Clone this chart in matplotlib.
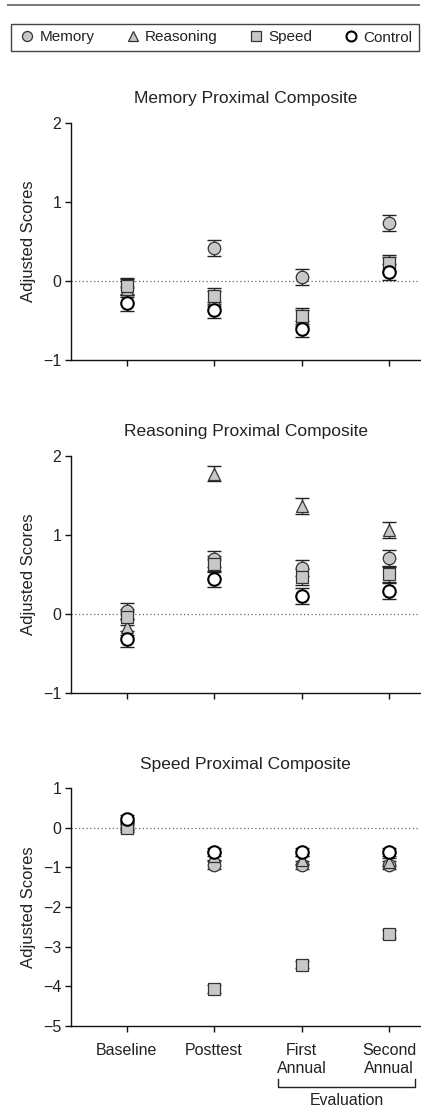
import matplotlib
matplotlib.use("Agg")
import matplotlib.pyplot as plt
import matplotlib.transforms as mtransforms
from matplotlib.lines import Line2D

plt.rcParams["font.family"] = ["Liberation Sans", "DejaVu Sans"]

# Datos
TIMEPOINTS = ["Baseline", "Posttest", "First\nAnnual", "Second\nAnnual"]
GROUPS = ["Memory", "Reasoning", "Speed", "Control"]

TITLES = ["Memory Proximal Composite", "Reasoning Proximal Composite", "Speed Proximal Composite"]
YLIMS = [(-1, 2), (-1, 2), (-5, 1)]
YTICKS = [[-1, 0, 1, 2], [-1, 0, 1, 2], [-5, -4, -3, -2, -1, 0, 1]]

# memory composite
mem_memory    = [-0.07, 0.42, 0.055, 0.73]
mem_reasoning = [-0.10, -0.22, -0.47, 0.21]
mem_speed     = [-0.06, -0.19, -0.44, 0.23]
mem_control   = [-0.28, -0.37, -0.61, 0.12]
mem_se        = [0.10, 0.10, 0.10, 0.10]

# reasoning composite
rea_memory    = [0.04, 0.70, 0.585, 0.71]
rea_reasoning = [-0.16, 1.775, 1.36, 1.06]
rea_speed     = [-0.04, 0.63, 0.47, 0.50]
rea_control   = [-0.31, 0.44, 0.227, 0.29]
rea_se        = [0.10, 0.10, 0.10, 0.10]

# speed composite
spd_memory    = [0.05, -0.94, -0.94, -0.94]
spd_reasoning = [0.07, -0.72, -0.80, -0.86]
spd_speed     = [0.00, -4.06, -3.45, -2.69]
spd_control   = [0.22, -0.61, -0.61, -0.62]
spd_se        = [0.10, 0.10, 0.10, 0.10]

PANELS = [
    [mem_memory, mem_reasoning, mem_speed, mem_control, mem_se],
    [rea_memory, rea_reasoning, rea_speed, rea_control, rea_se],
    [spd_memory, spd_reasoning, spd_speed, spd_control, spd_se],
]

TEXT = "#222222"
GRAY = "#c8c8c8"
EDGE = "#333333"

STYLES = {
    "Memory":    dict(marker="o", mfc=GRAY, mec=EDGE, mew=0.9, ms=9.0),
    "Reasoning": dict(marker="^", mfc=GRAY, mec=EDGE, mew=0.9, ms=9.2),
    "Speed":     dict(marker="s", mfc=GRAY, mec=EDGE, mew=0.9, ms=8.4),
    "Control":   dict(marker="o", mfc="white", mec="black", mew=1.5, ms=9.0),
}

W, H = 421, 1110
fig = plt.figure(figsize=(W / 100, H / 100), dpi=100)

# linea superior
fig.add_artist(Line2D([8 / W, 419 / W], [1 - 5 / H, 1 - 5 / H], color="#777777", lw=1.4))

ax_tops = [122.7, 455.7, 788.3]
ax_h = 237.6
x = list(range(len(TIMEPOINTS)))
axes = []
for i, (top, data) in enumerate(zip(ax_tops, PANELS)):
    ax = fig.add_axes([71 / W, 1 - (top + ax_h) / H, 349 / W, ax_h / H])
    axes.append(ax)
    ax.axhline(0, color="#666666", lw=0.9, ls=(0, (1, 2)), zorder=1)
    se = data[4]
    for g, vals in zip(GROUPS, data[:4]):
        st = STYLES[g]
        ax.errorbar(x, vals, yerr=se, fmt="none", ecolor="#222222", elinewidth=1.0,
                    capsize=4.8, capthick=1.0, zorder=2)
        ax.plot(x, vals, ls="none", zorder=3, **st)
    ax.set_xlim(-0.637, 3.354)
    ax.set_ylim(*YLIMS[i])
    ax.set_yticks(YTICKS[i])
    ax.set_yticklabels([str(t).replace("-", "\u2212") for t in YTICKS[i]])
    ax.set_xticks(x)
    if i == 2:
        ax.set_xticklabels(TIMEPOINTS, fontsize=11.4, color=TEXT, linespacing=1.25)
    else:
        ax.set_xticklabels([])
    for s in ["top", "right"]:
        ax.spines[s].set_visible(False)
    for s in ["left", "bottom"]:
        ax.spines[s].set_linewidth(1.0)
        ax.spines[s].set_color("#111111")
    ax.tick_params(axis="both", length=4, width=1.0, color="#111111",
                   labelsize=11.5, labelcolor=TEXT, pad=3)
    ax.tick_params(axis="x", pad=8)
    ax.set_ylabel("Adjusted Scores", fontsize=12, color=TEXT, labelpad=5)
    ax.set_title(TITLES[i], fontsize=12.5, color=TEXT, pad=14)

# corchete "Evaluation"
ax = axes[2]
trans = mtransforms.blended_transform_factory(ax.transData, ax.transAxes)
bx0, bx1 = 1.726, 3.30
ax.plot([bx0, bx0, bx1, bx1], [-0.222, -0.258, -0.258, -0.222], color="#222222",
        lw=1.0, transform=trans, clip_on=False)
ax.text((bx0 + bx1) / 2, -0.283, "Evaluation", transform=trans, ha="center", va="top",
        fontsize=11.4, color=TEXT)

# leyenda
handles = []
for g in GROUPS:
    st = dict(STYLES[g])
    st["ms"] = st["ms"] * 0.8
    handles.append(Line2D([], [], ls="none", **st))
fig.legend(handles, GROUPS, ncol=4, loc="center",
           bbox_to_anchor=(11 / W, 1 - 54 / H, 408 / W, 33 / H), mode="expand",
           frameon=True, fancybox=False, edgecolor="#444444", framealpha=1,
           handletextpad=0.2, borderaxespad=0, borderpad=0.45, fontsize=11,
           labelcolor=TEXT, handlelength=1.2)

fig.savefig("out.png", dpi=100)
